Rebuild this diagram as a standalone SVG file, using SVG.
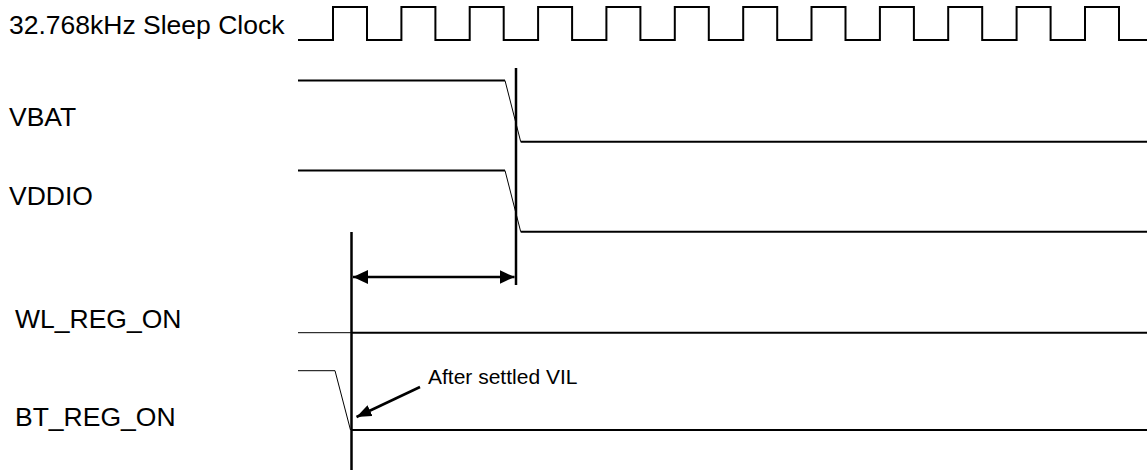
<svg xmlns="http://www.w3.org/2000/svg" width="1147" height="470" viewBox="0 0 1147 470">
<style>
  .lbl { font-family: "Liberation Sans", Arial, sans-serif; font-size: 26.5px; fill: #000; }
  .note { font-family: "Liberation Sans", Arial, sans-serif; font-size: 21px; fill: #000; }
  .sig { fill: none; stroke: #000; stroke-width: 2; stroke-linejoin: miter; }
  .thin { fill: none; stroke: #000; stroke-width: 1; }
  .mark { fill: none; stroke: #000; stroke-width: 2.5; }
  .arr { fill: none; stroke: #000; stroke-width: 2.5; }
</style>
<defs>
  <marker id="ah" viewBox="0 0 15 14" refX="15" refY="7" markerWidth="15" markerHeight="14" markerUnits="userSpaceOnUse" orient="auto-start-reverse">
    <path d="M0,0 L15,7 L0,14 Z" fill="#000"/>
  </marker>
  <marker id="ah2" viewBox="0 0 15 12" refX="15" refY="6" markerWidth="15" markerHeight="12" markerUnits="userSpaceOnUse" orient="auto">
    <path d="M0,0 L15,6 L0,12 Z" fill="#000"/>
  </marker>
</defs>
<rect width="1147" height="470" fill="#fff"/>

<g id="clock">
  <text class="lbl" x="9" y="34">32.768kHz Sleep Clock</text>
  <path class="sig" d="M298,40 H333 V7 H367 V40 H401.4 V7 H435.4 V40 H469.7 V7 H503.7 V40 H538.1 V7 H572.1 V40 H606.4 V7 H640.4 V40 H674.8 V7 H708.8 V40 H743.2 V7 H777.2 V40 H811.5 V7 H845.5 V40 H879.9 V7 H913.9 V40 H948.2 V7 H982.2 V40 H1016.6 V7 H1050.6 V40 H1085 V7 H1119 V40 H1147"/>
</g>

<g id="vbat">
  <text class="lbl" x="9" y="126">VBAT</text>
  <path class="sig" d="M298,80.5 H505"/>
  <path class="thin" d="M505,80.5 L520.7,141.7"/>
  <path class="sig" d="M520.7,141.7 H1147"/>
</g>

<g id="vddio">
  <text class="lbl" x="9" y="205">VDDIO</text>
  <path class="sig" d="M298,170.5 H505"/>
  <path class="thin" d="M505,170.5 L520.7,231.7"/>
  <path class="sig" d="M520.7,231.7 H1147"/>
</g>

<g id="wl_reg_on">
  <text class="lbl" x="15" y="328">WL_REG_ON</text>
  <path class="thin" d="M298,332.7 H351.5"/>
  <path class="sig" d="M351.5,332.7 H1147"/>
</g>

<g id="bt_reg_on">
  <text class="lbl" x="15" y="426">BT_REG_ON</text>
  <path class="thin" d="M298,370.7 H335 L350.5,430"/>
  <path class="sig" d="M351.5,430 H1147"/>
</g>

<g id="markers">
  <line class="mark" x1="516" y1="68" x2="516" y2="285"/>
  <line class="mark" x1="351.5" y1="232" x2="351.5" y2="470"/>
</g>

<g id="annotation">
  <text class="note" x="428" y="384">After settled VIL</text>
</g>

<g id="connectors">
  <line class="arr" x1="353" y1="277" x2="514.5" y2="277" marker-start="url(#ah)" marker-end="url(#ah)"/>
  <line class="arr" x1="420" y1="387" x2="356.5" y2="417" marker-end="url(#ah2)"/>
</g>
</svg>
